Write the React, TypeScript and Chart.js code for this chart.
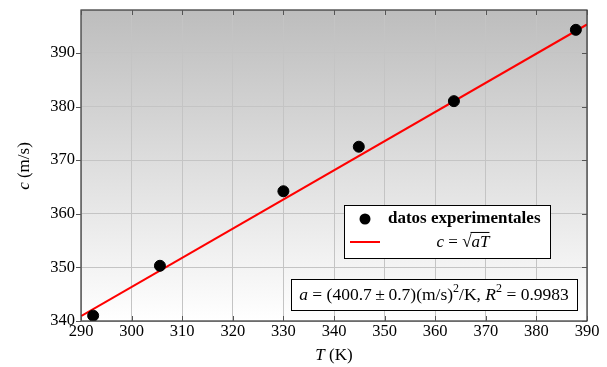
import React, { useEffect, useRef } from 'react';
import { Chart, registerables } from 'chart.js';
Chart.register(...registerables);

const T_DATA = [292.4, 305.6, 330.0, 344.9, 363.7, 387.8];
const C_DATA = [341.0, 350.3, 364.2, 372.5, 381.0, 394.3];
const FIT_T = [290, 390];
const FIT_C = [340.9, 395.3];
const X_MIN = 290, X_MAX = 390, X_STEP = 10;
const Y_MIN = 340, Y_MAX = 398, Y_STEP = 10;
const LEGEND_LABELS = ['datos experimentales', 'c = √aT'];

const FONT = '"Liberation Serif", "Times New Roman", serif';
Chart.defaults.font.family = FONT;

type Seg = { t: string; it?: boolean; sup?: boolean; bold?: boolean; over?: boolean };

function segWidth(ctx: CanvasRenderingContext2D, s: Seg, size: number) {
  const fs = s.sup ? Math.round(size * 0.7) : size;
  ctx.font = `${s.it ? 'italic ' : ''}${s.bold ? 'bold ' : ''}${fs}px ${FONT}`;
  return ctx.measureText(s.t).width;
}

function drawSegs(ctx: CanvasRenderingContext2D, segs: Seg[], x: number, y: number, size: number, align: 'left' | 'center' | 'right' = 'left') {
  let total = 0;
  for (const s of segs) total += segWidth(ctx, s, size);
  let cx = align === 'center' ? x - total / 2 : align === 'right' ? x - total : x;
  ctx.textBaseline = 'middle';
  ctx.textAlign = 'left';
  ctx.fillStyle = '#000';
  for (const s of segs) {
    const w = segWidth(ctx, s, size);
    const yy = s.sup ? y - size * 0.38 : y;
    ctx.fillText(s.t, cx, yy);
    if (s.over) {
      ctx.save();
      ctx.strokeStyle = '#000';
      ctx.lineWidth = 1;
      ctx.beginPath();
      ctx.moveTo(cx - 1, y - size * 0.62);
      ctx.lineTo(cx + w, y - size * 0.62);
      ctx.stroke();
      ctx.restore();
    }
    cx += w;
  }
  return total;
}

const decor = {
  id: 'decor',
  beforeDraw(chart: any) {
    const { ctx, chartArea: a } = chart;
    const g = ctx.createLinearGradient(0, a.top, 0, a.bottom);
    g.addColorStop(0, '#bdbdbd');
    g.addColorStop(1, '#ffffff');
    ctx.save();
    ctx.fillStyle = g;
    ctx.fillRect(a.left, a.top, a.right - a.left, a.bottom - a.top);
    ctx.restore();
  },
  afterDraw(chart: any) {
    const { ctx, chartArea: a, scales } = chart;
    const xs = scales.x, ys = scales.y;
    ctx.save();
    // frame
    ctx.strokeStyle = '#333';
    ctx.lineWidth = 1.2;
    ctx.strokeRect(a.left, a.top, a.right - a.left, a.bottom - a.top);
    // ticks
    ctx.strokeStyle = '#555';
    ctx.lineWidth = 1;
    ctx.beginPath();
    for (const t of xs.ticks) {
      const px = Math.round(xs.getPixelForValue(t.value)) + 0.5;
      ctx.moveTo(px, a.top); ctx.lineTo(px, a.top + 5);
      ctx.moveTo(px, a.bottom); ctx.lineTo(px, a.bottom - 5);
    }
    for (const t of ys.ticks) {
      const py = Math.round(ys.getPixelForValue(t.value)) + 0.5;
      ctx.moveTo(a.left, py); ctx.lineTo(a.left - 5, py);
      ctx.moveTo(a.right, py); ctx.lineTo(a.right - 5, py);
    }
    ctx.stroke();
    // tick labels
    for (const t of xs.ticks) {
      drawSegs(ctx, [{ t: String(t.value) }], xs.getPixelForValue(t.value), a.bottom + 11, 16.5, 'center');
    }
    for (const t of ys.ticks) {
      drawSegs(ctx, [{ t: String(t.value) }], a.left - 6, ys.getPixelForValue(t.value), 16.5, 'right');
    }

    // legend box
    const lx = 344, ly = 205, lw = 206, lh = 53;
    ctx.fillStyle = '#fff';
    ctx.fillRect(lx, ly, lw, lh);
    ctx.strokeStyle = '#000';
    ctx.lineWidth = 1;
    ctx.strokeRect(lx + 0.5, ly + 0.5, lw, lh);
    ctx.fillStyle = '#000';
    ctx.beginPath();
    ctx.arc(365, 219, 5.5, 0, Math.PI * 2);
    ctx.fill();
    drawSegs(ctx, [{ t: LEGEND_LABELS[0], bold: true }], 388, 219, 17);
    ctx.strokeStyle = '#ff0000';
    ctx.lineWidth = 2;
    ctx.beginPath();
    ctx.moveTo(350, 242); ctx.lineTo(380, 242);
    ctx.stroke();
    drawSegs(ctx, [{ t: 'c', it: true }, { t: ' = ' }, { t: '√' }, { t: 'aT', it: true, over: true }], 463, 243, 17, 'center');

    // fit box
    const bx = 291, by = 279, bw = 286, bh = 31;
    ctx.fillStyle = '#fff';
    ctx.fillRect(bx, by, bw, bh);
    ctx.strokeStyle = '#000';
    ctx.lineWidth = 1;
    ctx.strokeRect(bx + 0.5, by + 0.5, bw, bh);
    drawSegs(ctx, [
      { t: 'a', it: true }, { t: ' = (400.7\u2009±\u20090.7)(m/s)' }, { t: '2', sup: true }, { t: '/K, ' },
      { t: 'R', it: true }, { t: '2', sup: true }, { t: ' = 0.9983' },
    ], bx + bw / 2, by + bh / 2 + 1, 17.5, 'center');

    // axis titles
    drawSegs(ctx, [{ t: 'T', it: true }, { t: ' (K)' }], 334, 356, 17, 'center');
    ctx.save();
    ctx.translate(25, 166);
    ctx.rotate(-Math.PI / 2);
    drawSegs(ctx, [{ t: 'c', it: true }, { t: ' (m/s)' }], 0, 0, 17, 'center');
    ctx.restore();
    ctx.restore();
  },
};

export default function App() {
  const ref = useRef<HTMLCanvasElement | null>(null);
  useEffect(() => {
    document.body.style.margin = '0';
    const canvas = ref.current!;
    const chart = new Chart(canvas, {
      type: 'scatter',
      data: {
        datasets: [
          {
            label: LEGEND_LABELS[1],
            type: 'line',
            data: FIT_T.map((t, i) => ({ x: t, y: FIT_C[i] })),
            borderColor: '#ff0000',
            borderWidth: 2,
            pointRadius: 0,
            fill: false,
            order: 2,
          } as any,
          {
            label: LEGEND_LABELS[0],
            data: T_DATA.map((t, i) => ({ x: t, y: C_DATA[i] })),
            backgroundColor: '#000',
            borderColor: '#000',
            pointRadius: 5.5,
            order: 1,
          },
        ],
      },
      options: {
        responsive: false,
        animation: false,
        events: [],
        layout: { padding: { left: 0, right: 20, top: 10, bottom: 0 } },
        plugins: { legend: { display: false }, tooltip: { enabled: false } },
        scales: {
          x: {
            type: 'linear',
            min: X_MIN,
            max: X_MAX,
            border: { display: false },
            grid: { color: '#c4c4c4', lineWidth: 1, drawTicks: false },
            ticks: { stepSize: X_STEP, display: false },
            afterFit: (s: any) => { s.height = 46; s.paddingLeft = 0; s.paddingRight = 0; },
          },
          y: {
            type: 'linear',
            min: Y_MIN,
            max: Y_MAX,
            border: { display: false },
            grid: { color: '#c4c4c4', lineWidth: 1, drawTicks: false },
            ticks: { stepSize: Y_STEP, includeBounds: false, display: false },
            afterFit: (s: any) => { s.width = 81; s.paddingTop = 0; s.paddingBottom = 0; },
          },
        },
      },
      plugins: [decor],
    });
    return () => chart.destroy();
  }, []);
  return <canvas ref={ref} width={607} height={367} style={{ display: 'block', width: 607, height: 367 }} />;
}
